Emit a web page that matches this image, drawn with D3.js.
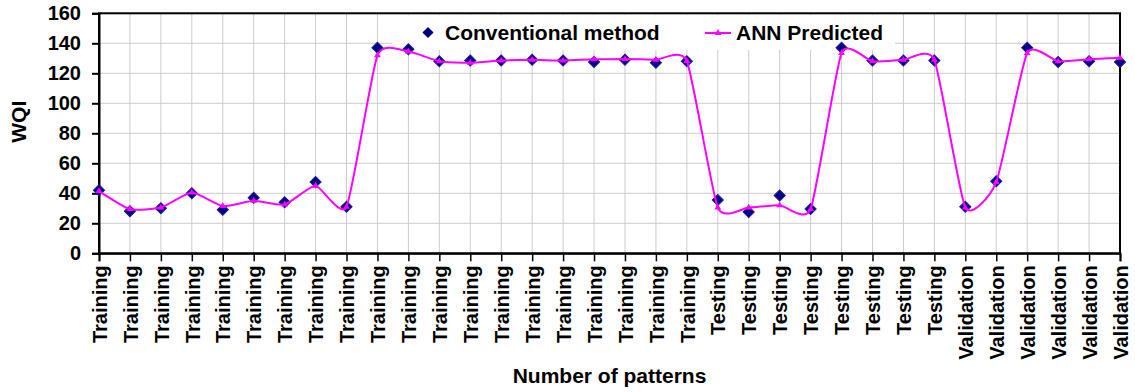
<!DOCTYPE html>
<html>
<head>
<meta charset="utf-8">
<script src="https://cdn.jsdelivr.net/npm/d3@7"></script>
<style>
  html, body { margin: 0; padding: 0; background: #fff; }
  svg text { font-family: "Liberation Sans", Arial, sans-serif; font-weight: bold; fill: #000; }
</style>
</head>
<body>
<svg id="chart" width="1135" height="392"></svg>
<script>
// ---- data ----
const categories = [
  "Training","Training","Training","Training","Training","Training","Training","Training","Training","Training",
  "Training","Training","Training","Training","Training","Training","Training","Training","Training","Training",
  "Testing","Testing","Testing","Testing","Testing","Testing","Testing","Testing",
  "Validation","Validation","Validation","Validation","Validation","Validation"
];
const conventional = [42, 28, 30, 40, 29, 37, 34, 47.5, 31, 137,
  136, 128, 128.5, 128.5, 129, 128.5, 127.5, 129, 127, 128,
  35.5, 27.5, 38.5, 29.5, 137, 128.5, 128.5, 128.5,
  31, 48, 137, 127.5, 128, 127.5];
const annPredicted = [41.5, 29.5, 30.5, 40.5, 31.5, 35, 32.5, 45, 31, 132,
  134.5, 128, 127, 128.5, 129, 128.5, 129.3, 129.5, 129, 128.2,
  30.5, 30.5, 32, 29.5, 133.5, 128, 129, 129,
  30.5, 47.5, 133.5, 128, 129.3, 130.3];
const yTicks = [0, 20, 40, 60, 80, 100, 120, 140, 160];
const seriesNames = ["Conventional method", "ANN Predicted"];

// ---- layout ----
const svg = d3.select("#chart");
const L = 99, R = 1120, T = 13.3, B = 253.3;
const idx = categories.map((d, i) => i);
const x = d3.scalePoint().domain(idx).range([L, R]).padding(0);
const y = d3.scaleLinear().domain([0, 160]).range([B, T]);

// gridlines
const grid = svg.append("g");
grid.selectAll("line.h").data(yTicks.slice(1)).join("line")
  .attr("x1", L).attr("x2", R).attr("y1", d => y(d)).attr("y2", d => y(d))
  .attr("stroke", "#cccccc").attr("stroke-width", 1);
grid.selectAll("line.v").data(idx.slice(1)).join("line")
  .attr("x1", d => x(d)).attr("x2", d => x(d)).attr("y1", T).attr("y2", B)
  .attr("stroke", "#cccccc").attr("stroke-width", 1);

// legend background (covers gridlines)
svg.append("rect").attr("x", 392).attr("y", 15).attr("width", 503).attr("height", 35).attr("fill", "#fff");

// frame
svg.append("rect").attr("x", L).attr("y", T).attr("width", R - L).attr("height", B - T)
  .attr("fill", "none").attr("stroke", "#000").attr("stroke-width", 2);

// y axis
const yAxis = svg.append("g").attr("transform", `translate(${L},0)`)
  .call(d3.axisLeft(y).tickValues(yTicks).tickSize(7).tickPadding(11).tickFormat(d3.format("d")));
yAxis.select(".domain").attr("stroke-width", 2);
yAxis.selectAll(".tick line").attr("stroke-width", 2);
yAxis.selectAll("text").style("font-size", "20px").style("font-family", "'Liberation Sans', Arial, sans-serif").style("font-weight", "bold");

// x axis
const xAxis = svg.append("g").attr("transform", `translate(0,${B})`)
  .call(d3.axisBottom(x).tickSize(8).tickFormat(i => categories[i]));
xAxis.select(".domain").attr("stroke-width", 2);
xAxis.selectAll(".tick line").attr("stroke-width", 1.5);
xAxis.selectAll("text")
  .style("font-size", "20px").style("font-family", "'Liberation Sans', Arial, sans-serif").style("font-weight", "bold")
  .attr("text-anchor", "end")
  .attr("transform", "rotate(-90)")
  .attr("x", -12).attr("y", 0).attr("dy", "0.36em");

// axis titles
svg.append("text").attr("transform", "translate(26,121.7) rotate(-90)")
  .attr("text-anchor", "middle").style("font-size", "21px").text("WQI");
svg.append("text").attr("x", (L + R) / 2).attr("y", 383)
  .attr("text-anchor", "middle").style("font-size", "21px").text("Number of patterns");

// series: conventional (diamonds)
const diamond = d3.symbol().type(d3.symbolSquare).size(62);
svg.append("g").selectAll("path").data(conventional).join("path")
  .attr("d", diamond)
  .attr("transform", (d, i) => `translate(${x(i)},${y(d)}) rotate(45)`)
  .attr("fill", "#000080").attr("stroke", "#1a1aa0").attr("stroke-width", 1);

// series: ANN predicted (smooth line + triangles)
const line = d3.line().x((d, i) => x(i)).y(d => y(d)).curve(d3.curveCardinal.tension(0.45));
svg.append("path").datum(annPredicted).attr("d", line)
  .attr("fill", "none").attr("stroke", "#ff00ff").attr("stroke-width", 2);
const tri = d3.symbol().type(d3.symbolTriangle).size(20);
svg.append("g").selectAll("path").data(annPredicted).join("path")
  .attr("d", tri)
  .attr("transform", (d, i) => `translate(${x(i)},${y(d)})`)
  .attr("fill", "#ff00ff");

// legend
const lg = svg.append("g");
lg.append("path").attr("d", d3.symbol().type(d3.symbolSquare).size(62))
  .attr("transform", "translate(428,32.5) rotate(45)").attr("fill", "#000080");
lg.append("text").attr("x", 445).attr("y", 40).style("font-size", "21px").text(seriesNames[0]);
lg.append("line").attr("x1", 705).attr("x2", 731).attr("y1", 33).attr("y2", 33)
  .attr("stroke", "#ff00ff").attr("stroke-width", 2);
lg.append("path").attr("d", tri).attr("transform", "translate(718,33)").attr("fill", "#ff00ff");
lg.append("text").attr("x", 736).attr("y", 40).style("font-size", "21px").text(seriesNames[1]);
</script>
</body>
</html>
